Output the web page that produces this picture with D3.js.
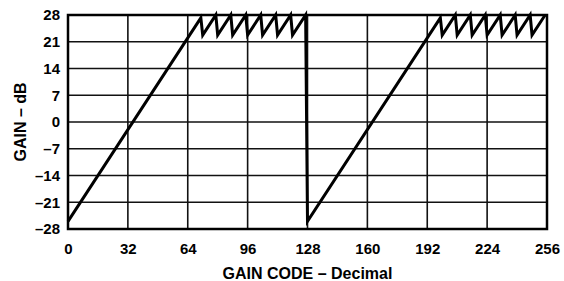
<!DOCTYPE html>
<html>
<head>
<meta charset="utf-8">
<script src="https://cdn.jsdelivr.net/npm/d3@7"></script>
<style>
  body { margin: 0; background: #fff; }
  text { font-family: "Liberation Sans", Arial, sans-serif; font-weight: bold; fill: #000; }
</style>
</head>
<body>
<svg id="chart" width="564" height="281"></svg>
<script>
// vertices of the gain curve
var gainCodes = [0, 71, 72, 79, 80, 87, 88, 95, 96, 103, 104, 111, 112, 119, 120, 127,
  128, 199, 200, 207, 208, 215, 216, 223, 224, 231, 232, 239, 240, 247, 248, 255];
var gainDb = [-26, 27.25, 22.75, 28, 22.75, 28, 22.75, 28, 22.75, 28, 22.75, 28, 22.75, 28, 22.75, 28,
  -26, 27.25, 22.75, 28, 22.75, 28, 22.75, 28, 22.75, 28, 22.75, 28, 22.75, 28, 22.75, 28];

var xTicks = [0, 32, 64, 96, 128, 160, 192, 224, 256];
var yTicks = [-28, -21, -14, -7, 0, 7, 14, 21, 28];

var margin = { left: 68, top: 15, right: 17, bottom: 52 };
var width = 564 - margin.left - margin.right,
  height = 281 - margin.top - margin.bottom;

var svg = d3.select("#chart");
var g = svg.append("g").attr("transform", "translate(" + margin.left + "," + margin.top + ")");

var x = d3.scaleLinear().domain([0, 256]).range([0, width]);
var y = d3.scaleLinear().domain([-28, 28]).range([height, 0]);

// grid
g.selectAll(".vgrid")
  .data(xTicks)
  .enter()
  .append("line")
  .attr("x1", function (d) { return x(d); })
  .attr("x2", function (d) { return x(d); })
  .attr("y1", 0)
  .attr("y2", height)
  .style("stroke", "#111")
  .style("stroke-width", 1.6);

g.selectAll(".hgrid")
  .data(yTicks)
  .enter()
  .append("line")
  .attr("x1", 0)
  .attr("x2", width)
  .attr("y1", function (d) { return y(d); })
  .attr("y2", function (d) { return y(d); })
  .style("stroke", "#111")
  .style("stroke-width", 1.6);

// frame
g.append("rect")
  .attr("width", width)
  .attr("height", height)
  .style("fill", "none")
  .style("stroke", "#000")
  .style("stroke-width", 2.5);

// axes labels
var xAxis = d3.axisBottom(x).tickValues(xTicks).tickSize(0).tickPadding(14);
g.append("g")
  .attr("transform", "translate(0," + height + ")")
  .call(xAxis)
  .call(function (a) { a.select(".domain").remove(); })
  .selectAll("text")
  .style("font-size", "15px")
  .style("font-family", "Liberation Sans, Arial, sans-serif")
  .style("font-weight", "bold");

var yAxis = d3.axisLeft(y).tickValues(yTicks).tickSize(0).tickPadding(8)
  .tickFormat(function (d) { return d < 0 ? "\u2013" + Math.abs(d) : String(d); });
g.append("g")
  .call(yAxis)
  .call(function (a) { a.select(".domain").remove(); })
  .selectAll("text")
  .style("font-size", "15px")
  .style("font-family", "Liberation Sans, Arial, sans-serif")
  .style("font-weight", "bold");

// data line
var pts = gainCodes.map(function (c, i) { return { x: c, y: gainDb[i] }; });
var line = d3.line()
  .x(function (d) { return x(d.x); })
  .y(function (d) { return y(d.y); });

g.append("path")
  .attr("d", line(pts))
  .style("fill", "none")
  .style("stroke", "#000")
  .style("stroke-width", 3)
  .style("stroke-linejoin", "miter");

// titles
svg.append("text")
  .attr("x", margin.left + width / 2)
  .attr("y", 279)
  .attr("text-anchor", "middle")
  .style("font-size", "16px")
  .text("GAIN CODE \u2013 Decimal");

svg.append("text")
  .attr("transform", "translate(26," + (margin.top + height / 2) + ") rotate(-90)")
  .attr("text-anchor", "middle")
  .style("font-size", "16px")
  .text("GAIN \u2013 dB");
</script>
</body>
</html>
